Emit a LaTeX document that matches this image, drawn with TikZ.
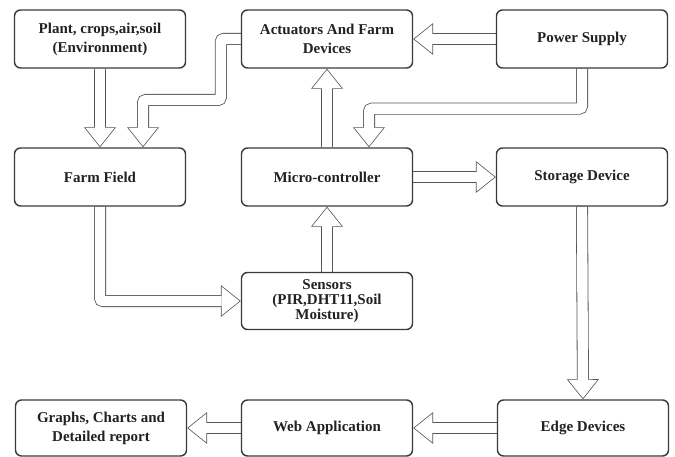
\documentclass[tikz,border=0pt]{standalone}
\usepackage{fontspec}
\setmainfont{Liberation Serif}
\usetikzlibrary{arrows.meta, positioning, backgrounds}
\definecolor{lineGray}{HTML}{3A3A3A}
\definecolor{arrowGray}{HTML}{555555}
\definecolor{textDark}{HTML}{222222}
\tikzset{
  arrowOut/.style={line width=12pt, color=arrowGray, rounded corners=3pt,
    -{Triangle[length=20pt, width=32pt, line width=0pt]}},
  arrowIn/.style={line width=10.4pt, color=white, rounded corners=3pt,
    shorten >=1.28pt, -{Triangle[length=17.9pt, width=28.7pt, line width=0pt]}},
  boxA/.style={rectangle, rounded corners=6pt, draw=lineGray, line width=1.4pt,
    fill=white, align=center, text=textDark,
    font=\bfseries\fontsize{15}{19}\selectfont,
    minimum width=171pt, minimum height=58pt, inner sep=2pt},
}
% hollow block arrow: outline first, then white inside
\newcommand{\hollowArrow}[1]{\draw[arrowOut] #1; \draw[arrowIn] #1;}
\begin{document}
\begin{tikzpicture}[x=1pt, y=-1pt]
  \useasboundingbox (0,0) rectangle (675,457);
  % top row
  \node[boxA] (env) at (100,39) {Plant, crops,air,soil\\(Environment)};
  \node[boxA] (act) at (327,39) {Actuators And Farm\\Devices};
  \node[boxA] (pow) at (582,39) {Power Supply};
  % middle row
  \node[boxA] (farm) at (100,177) {Farm Field};
  \node[boxA] (micro) at (327,177) {Micro-controller};
  \node[boxA] (stor) at (582,177) {Storage Device};
  \node[boxA, minimum height=57pt,
        font=\bfseries\fontsize{15}{15}\selectfont] (sens) at (327,301)
        {Sensors\\(PIR,DHT11,Soil\\Moisture)};
  % bottom row
  \node[boxA, minimum height=56pt] (graph) at (101,428) {Graphs, Charts and\\Detailed report};
  \node[boxA, minimum height=56pt] (web) at (327,428) {Web Application};
  \node[boxA, minimum height=56pt] (edge) at (583,428) {Edge Devices};
  \begin{scope}[on background layer]
    \hollowArrow{(env.south) -- (farm.north)}
    \hollowArrow{(act.west) -- ++(-20,0) -- ++(0,61) -| ([xshift=43pt]farm.north)}
    \hollowArrow{(pow.west) -- (act.east)}
    \hollowArrow{(pow.south) -- ++(0,40) -| ([xshift=42pt]micro.north)}
    \hollowArrow{(micro.north) -- (act.south)}
    \hollowArrow{(sens.north) -- (micro.south)}
    \hollowArrow{(farm.south) |- (sens.west)}
    \hollowArrow{(micro.east) -- (stor.west)}
    \hollowArrow{(stor.south) -- (edge.north)}
    \hollowArrow{(edge.west) -- (web.east)}
    \hollowArrow{(web.west) -- (graph.east)}
  \end{scope}
\end{tikzpicture}
\end{document}
